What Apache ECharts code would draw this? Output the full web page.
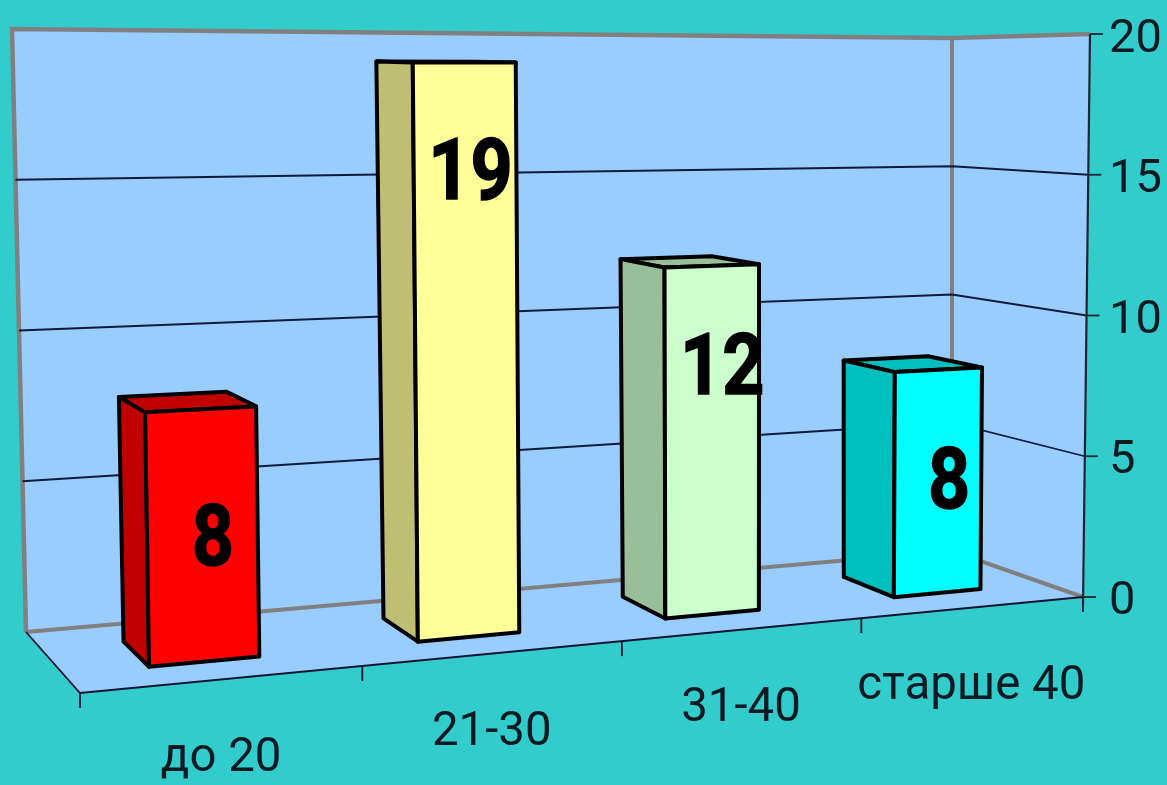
<!DOCTYPE html>
<html>
<head>
<meta charset="utf-8">
<style>html,body{margin:0;padding:0;background:#33CCCC}#chart{width:1167px;height:785px}</style>
<script src="https://cdn.jsdelivr.net/npm/echarts@6/dist/echarts.min.js"></script>
</head>
<body>
<div id="chart"></div>
<script>
// Age groups and headcounts
const categories = ['до 20', '21-30', '31-40', 'старше 40'];
const counts = [8, 19, 12, 8];
const valueTicks = [0, 5, 10, 15, 20];

// Bar colours: front face and shaded side/top
const faceColors = ['#FF0000', '#FFFF99', '#CCFFCC', '#00FFFF'];
const sideColors = ['#C00000', '#BFBF73', '#99BF99', '#00BFBF'];

// Value height at which each bar's number sits, with a sideways nudge
const labelLevels = [3.75, 15.2, 8.3, 3.8];
const labelNudge = [10, 5, 10, 11];

// Corners of the 3D view box on the page
const VIEW = {
  fbl: [80, 693], fbr: [1083, 597], bbl: [26, 632], bbr: [952, 551],
  ftl: [70, 31], ftr: [1090, 34], btl: [12, 29], btr: [952, 38]
};
const X_PERSPECTIVE = 0.175;
const BAR_FRONT = 0.3, BAR_BACK = 0.72, BAR_WIDTH_IN_BAND = 0.4;

const mix = (a, b, t) => [a[0] + (b[0] - a[0]) * t, a[1] + (b[1] - a[1]) * t];

// Maps box fractions (x across, y up, z into the page) to pixels
function project(x, y, z) {
  const w = (1 + X_PERSPECTIVE) * x / (1 + X_PERSPECTIVE * x);
  const front = mix(mix(VIEW.fbl, VIEW.fbr, w), mix(VIEW.ftl, VIEW.ftr, w), y);
  const back = mix(mix(VIEW.bbl, VIEW.bbr, w), mix(VIEW.btl, VIEW.btr, w), y);
  return mix(front, back, z);
}

function fractions(params, api, cat, value) {
  const rect = params.coordSys;
  const p = api.coord([cat, value]);
  return [(p[0] - rect.x) / rect.width, (rect.y + rect.height - p[1]) / rect.height];
}

const poly = (points, fill, z2) => ({
  type: 'polygon', shape: { points }, style: { fill, stroke: fill, lineWidth: 0.5 }, z2: z2 || 0
});
const line = (points, stroke, lineWidth, z2) => ({
  type: 'polyline', shape: { points }, style: { fill: 'none', stroke, lineWidth, lineJoin: 'miter' }, z2: z2 || 0
});

// Back wall, right wall and floor
function renderFrame() {
  const g = [];
  g.push(poly([project(0, 0, 1), project(1, 0, 1), project(1, 1, 1), project(0, 1, 1)], '#99CCFF'));
  g.push(poly([project(1, 0, 1), project(1, 0, 0), project(1, 1, 0), project(1, 1, 1)], '#99CCFF'));
  g.push(poly([project(0, 0, 0), project(1, 0, 0), project(1, 0, 1), project(0, 0, 1)], '#99CCFF'));
  g.push(line([project(0, 0, 1), project(0, 1, 1), project(1, 1, 1), project(1, 1, 0)], '#808080', 4.5, 1));
  g.push(line([project(1, 1, 1), project(1, 0, 1)], '#808080', 4, 1));
  g.push(line([project(0, 0, 1), project(1, 0, 1), project(1, 0, 0)], '#808080', 4, 1));
  return { type: 'group', children: g };
}

// Gridlines run along the back wall and then forward along the right wall
function renderGridline(params, api) {
  const y = fractions(params, api, 0, api.value(1))[1];
  if (y <= 0 || y >= 1) return { type: 'group', children: [] };
  return line([project(0, y, 1), project(1, y, 1), project(1, y, 0)], '#101A3A', 1.8, 2);
}

// Front floor edge, axis line and their tick marks
function renderAxes() {
  const g = [];
  g.push(line([project(0, 0, 1), project(0, 0, 0), project(1, 0, 0)], '#0A1430', 1.8, 3));
  const top = project(1, 1, 0), bottom = project(1, 0, 0);
  g.push(line([top, [bottom[0], bottom[1] + 8]], '#202530', 2.2, 3));
  categories.concat(['']).forEach((_, i) => {
    const p = project(i / categories.length, 0, 0);
    g.push(line([p, [p[0], p[1] + 15]], '#0A1430', 1.8, 3));
  });
  valueTicks.forEach(t => {
    const p = project(1, t / 20, 0);
    g.push(line([p, [p[0] + 13, p[1]]], '#202530', 1.8, 3));
  });
  return { type: 'group', children: g };
}

// One bar as three faces, with its number on the front
function renderBar(params, api) {
  const i = api.value(0);
  const [cx, y] = fractions(params, api, i, api.value(1));
  const half = api.size([1, 0])[0] / params.coordSys.width * BAR_WIDTH_IN_BAND / 2;
  const x0 = cx - half, x1 = cx + half;
  const zf = BAR_FRONT, zb = BAR_BACK;
  const barFace = (pts, fill) => ({
    type: 'polygon', shape: { points: pts },
    style: { fill, stroke: '#000', lineWidth: 4, lineJoin: 'round' }
  });
  const labelY = fractions(params, api, i, labelLevels[i])[1];
  const at = project(cx, labelY, zf);
  return {
    type: 'group',
    children: [
      barFace([project(x0, y, zb), project(x1, y, zb), project(x1, y, zf), project(x0, y, zf)], sideColors[i]),
      barFace([project(x0, 0, zb), project(x0, 0, zf), project(x0, y, zf), project(x0, y, zb)], sideColors[i]),
      barFace([project(x0, 0, zf), project(x1, 0, zf), project(x1, y, zf), project(x0, y, zf)], faceColors[i]),
      {
        type: 'text', x: at[0] + labelNudge[i], y: at[1], scaleX: 0.92, scaleY: 1.06, z2: 5,
        style: {
          text: String(counts[i]), x: 0, y: 0, align: 'center', verticalAlign: 'middle',
          font: 'bold 80px Roboto', fill: '#000', stroke: '#000', lineWidth: 1.5
        }
      }
    ]
  };
}

// Category names follow the slanted floor edge
function renderCategoryLabel(params, api) {
  const i = api.value(0);
  const cx = fractions(params, api, i, 0)[0];
  const p = project(cx, 0, 0);
  return {
    type: 'text', x: p[0] - 3, y: p[1] + 80, scaleX: 1.03, scaleY: 1.03,
    style: {
      text: categories[i], x: 0, y: 0, align: 'center', verticalAlign: 'middle',
      font: '46px Roboto', fill: '#0A1A22'
    }
  };
}

const barData = counts.map((v, i) => [i, v]);
const tickData = valueTicks.map(v => [0, v]);
const catData = categories.map((_, i) => [i, 0]);

const customBase = { type: 'custom', coordinateSystem: 'cartesian2d', encode: { x: 0, y: 1 }, clip: false, silent: true };

const chart = echarts.init(document.getElementById('chart'), null, { renderer: 'canvas' });
chart.setOption({
  animation: false,
  backgroundColor: '#33CCCC',
  grid: { left: 80, right: 81, top: 35, bottom: 188 },
  xAxis: { type: 'category', data: categories, show: false },
  yAxis: {
    type: 'value', position: 'right', min: 0, max: 20, interval: 5,
    axisLine: { show: false }, axisTick: { show: false }, splitLine: { show: false },
    axisLabel: {
      margin: 23,
      formatter: '{n|{value}}',
      rich: { n: { fontFamily: 'Roboto', fontSize: 47, color: '#0A1A22', padding: [10, 0, 0, 0] } }
    }
  },
  series: [
    Object.assign({}, customBase, { z: 1, data: [[0, 0]], renderItem: renderFrame }),
    Object.assign({}, customBase, { z: 2, data: tickData, renderItem: renderGridline }),
    Object.assign({}, customBase, { z: 3, data: [[0, 0]], renderItem: renderAxes }),
    Object.assign({}, customBase, { z: 4, data: barData, renderItem: renderBar }),
    Object.assign({}, customBase, { z: 5, data: catData, renderItem: renderCategoryLabel })
  ]
});
</script>
</body>
</html>
